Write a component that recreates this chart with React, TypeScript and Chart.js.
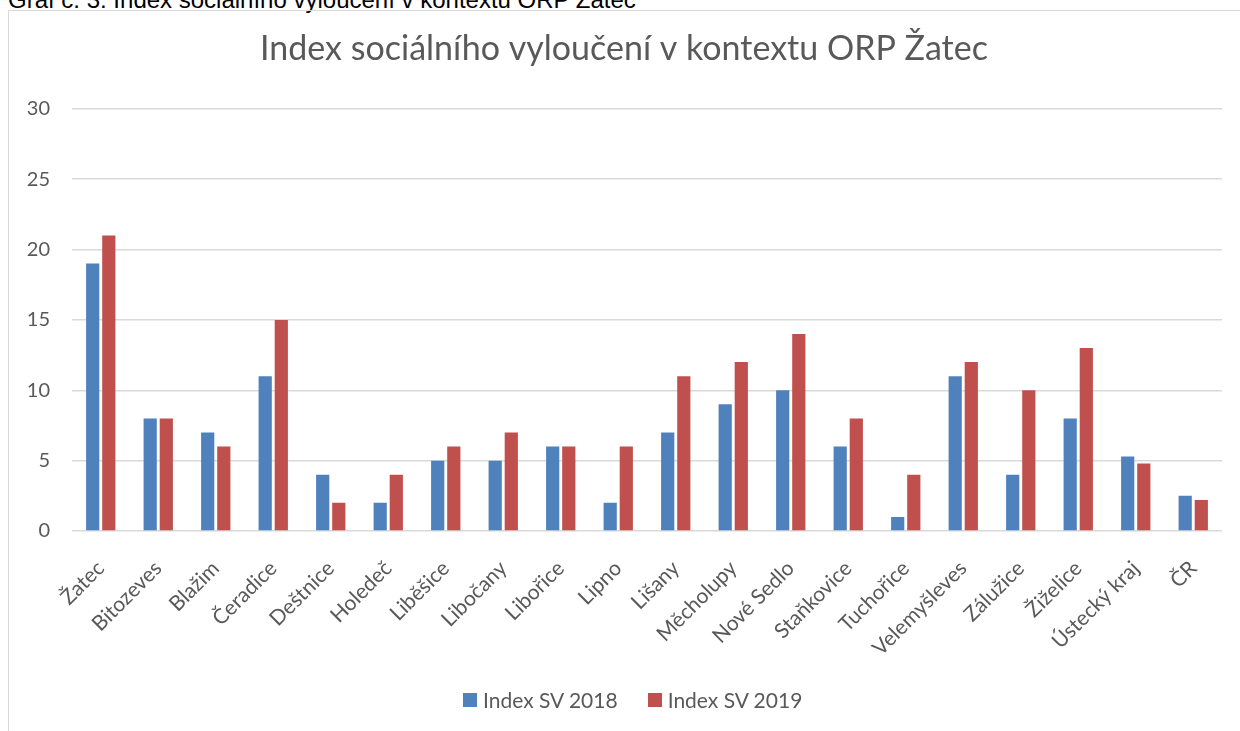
import React, { useEffect, useRef } from "react";
import { Chart, registerables } from "chart.js";

Chart.register(...registerables);

const categories = [
  "Žatec", "Bitozeves", "Blažim", "Čeradice", "Deštnice", "Holedeč", "Liběšice",
  "Libočany", "Libořice", "Lipno", "Lišany", "Měcholupy", "Nové Sedlo", "Staňkovice",
  "Tuchořice", "Velemyšleves", "Zálužice", "Žiželice", "Ústecký kraj", "ČR",
];
const series2018 = [19, 8, 7, 11, 4, 2, 5, 5, 6, 2, 7, 9, 10, 6, 1, 11, 4, 8, 5.3, 2.5];
const series2019 = [21, 8, 6, 15, 2, 4, 6, 7, 6, 6, 11, 12, 14, 8, 4, 12, 10, 13, 4.8, 2.2];
const yTicks = [0, 5, 10, 15, 20, 25, 30];
const seriesNames = ["Index SV 2018", "Index SV 2019"];
const seriesColors = ["#4F81BD", "#C0504D"];

const FONT = "Lato, 'Open Sans', sans-serif";
const TEXT = "#595959";

export default function App() {
  const ref = useRef<HTMLCanvasElement | null>(null);

  useEffect(() => {
    if (!ref.current) return;
    const chart = new Chart(ref.current, {
      type: "bar",
      data: {
        labels: categories,
        datasets: [
          {
            label: seriesNames[0],
            data: series2018,
            backgroundColor: seriesColors[0],
            borderWidth: 0,
            barPercentage: 0.82,
            categoryPercentage: 0.56,
          },
          {
            label: seriesNames[1],
            data: series2019,
            backgroundColor: seriesColors[1],
            borderWidth: 0,
            barPercentage: 0.82,
            categoryPercentage: 0.56,
          },
        ],
      },
      options: {
        animation: false,
        responsive: false,
        maintainAspectRatio: false,
        layout: { padding: { left: 0, right: 18, top: 0, bottom: 0 } },
        plugins: {
          title: {
            display: true,
            text: "Index sociálního vyloučení v kontextu ORP Žatec",
            color: TEXT,
            font: { family: FONT, size: 34, weight: "normal" },
            padding: { top: 18, bottom: 39 },
          },
          legend: { display: false },
          tooltip: { enabled: false },
        },
        scales: {
          x: {
            grid: { display: false, drawTicks: false },
            border: { display: false },
            ticks: {
              color: TEXT,
              font: { family: FONT, size: 21 },
              autoSkip: false,
              maxRotation: 45,
              minRotation: 45,
              padding: 25,
              labelOffset: 0,
            },
            afterFit: (scale: any) => {
              scale.height = 200;
            },
          },
          y: {
            min: 0,
            max: 30,
            afterBuildTicks: (scale: any) => {
              scale.ticks = yTicks.map((v) => ({ value: v }));
            },
            grid: { color: "#D9D9D9", lineWidth: 1.5, drawTicks: false },
            border: { display: false },
            ticks: {
              color: TEXT,
              font: { family: FONT, size: 20 },
              padding: 22,
            },
            afterFit: (scale: any) => {
              scale.width = 46;
            },
          },
        },
      },
    });
    return () => chart.destroy();
  }, []);

  return (
    <div style={{ position: "fixed", left: 0, top: 0, width: 1240, height: 731, overflow: "hidden", background: "#fff" }}>
      <div
        style={{
          position: "absolute",
          left: 8,
          top: -14,
          fontFamily: "'Liberation Sans', Arial, sans-serif",
          fontSize: 24,
          lineHeight: "27px",
          color: "#000",
          whiteSpace: "nowrap",
        }}
      >
        Graf č. 3: Index sociálního vyloučení v kontextu ORP Žatec
      </div>
      <div
        style={{
          position: "absolute",
          left: 8,
          top: 10,
          width: 1250,
          height: 740,
          border: "1px solid #D9D9D9",
          boxSizing: "border-box",
        }}
      />
      <canvas ref={ref} width={1214} height={720} style={{ position: "absolute", left: 26, top: 11 }} />
      <div
        style={{
          position: "absolute",
          left: 463,
          top: 686,
          display: "flex",
          gap: 30,
          fontFamily: FONT,
          fontSize: 21,
          lineHeight: "28px",
          color: TEXT,
          whiteSpace: "nowrap",
        }}
      >
        {seriesNames.map((name, i) => (
          <div key={name} style={{ display: "flex", alignItems: "center", gap: 6 }}>
            <span style={{ display: "inline-block", width: 14, height: 14, background: seriesColors[i] }} />
            <span>{name}</span>
          </div>
        ))}
      </div>
    </div>
  );
}
